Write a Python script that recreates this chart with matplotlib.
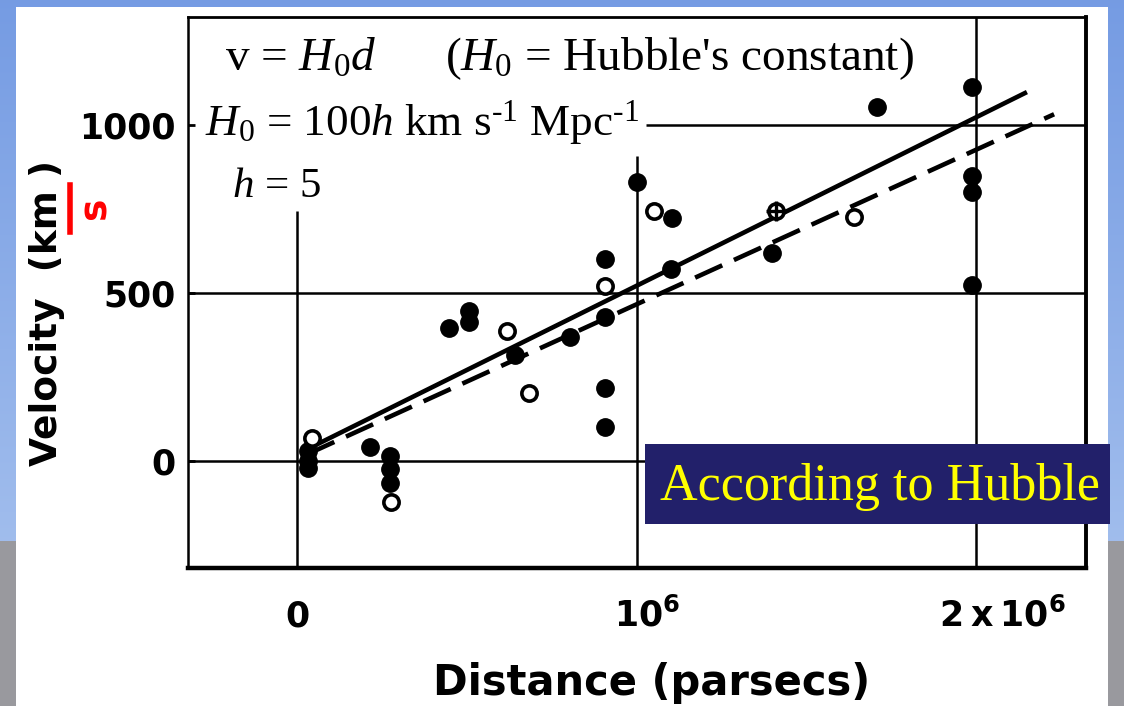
import numpy as np
import matplotlib
matplotlib.use("Agg")
import matplotlib.pyplot as plt
from matplotlib.patches import Rectangle
from matplotlib.lines import Line2D
import matplotlib.transforms as mtransforms

# ---------------- data (distance in parsecs, velocity in km/s) ----------------
filled_dist = [0.032e6, 0.032e6, 0.032e6, 0.215e6, 0.275e6, 0.275e6, 0.275e6,
               0.447e6, 0.506e6, 0.506e6, 0.641e6, 0.803e6, 0.906e6, 0.906e6,
               0.906e6, 0.906e6, 1.0e6, 1.106e6, 1.103e6, 1.40e6, 1.709e6,
               1.988e6, 1.988e6, 1.988e6, 1.988e6]
filled_vel = [30, 0, -22, 42, 15, -25, -65,
              397, 447, 414, 316, 370, 600, 430,
              218, 101, 829, 722, 570, 620, 1053,
              1112, 847, 802, 525]
open_dist = [0.043e6, 0.276e6, 0.618e6, 0.682e6, 0.906e6, 1.053e6, 1.641e6]
open_vel = [69, -122, 388, 203, 522, 743, 725]
cross_dist = [1.41e6]
cross_vel = [743]
solid_dist = [0.02e6, 2.15e6]
solid_vel = [30, 1098]
dashed_dist = [0.03e6, 2.23e6]
dashed_vel = [20, 1032]

x_ticks = [0, 1e6, 2e6]
x_ticklabels = ["0", r"$\mathbf{10^6}$", r"$\mathbf{2\;x\;10^6}$"]
y_ticks = [0, 500, 1000]
y_ticklabels = ["0", "500", "1000"]

W, H = 1124, 706
plt.rcParams['mathtext.fontset'] = 'custom'
plt.rcParams['mathtext.rm'] = 'Liberation Serif'
plt.rcParams['mathtext.it'] = 'Liberation Serif:italic'
plt.rcParams['mathtext.bf'] = 'DejaVu Sans:bold'

fig = plt.figure(figsize=(W / 100, H / 100), dpi=100)

# ---------------- slide background ----------------
bg = fig.add_axes([0, 0, 1, 1], zorder=-10)
yy = np.linspace(0, 1, H)[:, None]
top = np.array([0.46, 0.61, 0.89])
mid = np.array([0.68, 0.78, 0.94])
grey = np.array([0.60, 0.60, 0.62])
img = top + (mid - top) * yy[..., None] * np.ones((1, W, 1))
mask = (np.arange(H) > 540)[:, None]
img = np.where(mask[..., None], grey, img)
bg.imshow(img, aspect='auto', extent=[0, 1, 0, 1], origin='upper')
bg.add_patch(Rectangle((16 / W, 0), (1108 - 16) / W, 1 - 7 / H,
                       facecolor='white', edgecolor='none', transform=bg.transAxes))
bg.set_xlim(0, 1); bg.set_ylim(0, 1)
bg.axis('off')

# ---------------- main axes ----------------
L, R, T, B = 188, 1086, 17, 568
ax = fig.add_axes([L / W, 1 - B / H, (R - L) / W, (B - T) / H])
ax.set_facecolor('white')
px_per_mpc = 339.5
px_per_kms = 0.336
x0px, y0px = 297, 461
ax.set_xlim((L - x0px) / px_per_mpc * 1e6, (R - x0px) / px_per_mpc * 1e6)
ax.set_ylim(-(B - y0px) / px_per_kms, (y0px - T) / px_per_kms)

for side, lw in [('left', 1.8), ('bottom', 3.2), ('right', 2.8), ('top', 2.0)]:
    ax.spines[side].set_linewidth(lw)
    ax.spines[side].set_color('black')

glw = 1.8
ylo, yhi = ax.get_ylim()
xlo, xhi = ax.get_xlim()
ax.hlines([0, 500], xlo, xhi, color='black', lw=glw, zorder=1)
ax.hlines([1000], 1.027e6, xhi, color='black', lw=glw, zorder=1)
ax.vlines([0], ylo, 743, color='black', lw=glw, zorder=1)
ax.vlines([1e6], ylo, 907, color='black', lw=glw, zorder=1)
ax.vlines([2e6], ylo, yhi, color='black', lw=glw, zorder=1)

# fit lines
ax.plot(solid_dist, solid_vel, color='black', lw=3.3, solid_capstyle='butt', zorder=3)
ax.plot(dashed_dist, dashed_vel, color='black', lw=3.3, dashes=(6.5, 2.8),
        dash_capstyle='butt', zorder=3)

# points
ax.plot(filled_dist, filled_vel, 'o', ms=12.5, color='black', mec='black', zorder=4)
ax.plot(open_dist, open_vel, 'o', ms=11, mfc='white', mec='black', mew=2.6, zorder=4)
ax.plot(cross_dist, cross_vel, 'o', ms=11, mfc='white', mec='black', mew=2.6, zorder=4)
ax.plot(cross_dist, cross_vel, '+', ms=15, mec='black', mew=2.4, zorder=5)

# ticks
ax.set_xticks(x_ticks)
ax.set_xticklabels(x_ticklabels)
ax.set_yticks(y_ticks)
ax.set_yticklabels(y_ticklabels)
ax.tick_params(axis='x', length=0, pad=42)
ax.tick_params(axis='y', direction='in', length=5, width=2, pad=9)
for lab in ax.get_xticklabels() + ax.get_yticklabels():
    lab.set_fontfamily('DejaVu Sans')
    lab.set_fontweight('bold')
    lab.set_fontsize(25)
xl = ax.get_xticklabels()
for lab in xl:
    lab.set_verticalalignment('baseline')
offsets = [0, 11, 26]
for lab, off in zip(xl, offsets):
    lab.set_transform(lab.get_transform() +
                      mtransforms.ScaledTranslation(off / 100, 0, fig.dpi_scale_trans))

# formulas
serif = 'Liberation Serif'
ax.text(37 / 898, 1 - 53 / 551, r"v = $H_0d$      ($H_0$ = Hubble's constant)",
        transform=ax.transAxes, fontsize=34, family=serif, va='baseline', ha='left', zorder=6)
ax.text(17 / 898, 1 - 118 / 551,
        r"$H_0$ = 100$h$ km s$^{\text{-1}}$ Mpc$^{\text{-1}}$",
        transform=ax.transAxes, fontsize=32.5, family=serif, va='baseline', ha='left', zorder=6)
ax.text(44 / 898, 1 - 180 / 551, r"$h$ = 5",
        transform=ax.transAxes, fontsize=31, family=serif, va='baseline', ha='left', zorder=6)

# axis labels
fig.text(652 / W, 1 - 683 / H, "Distance (parsecs)", fontsize=30, fontweight='bold',
         family='DejaVu Sans', ha='center', va='center')
fig.text(47 / W, 1 - 313 / H, "Velocity  (km )", fontsize=27, fontweight='bold',
         family='DejaVu Sans', rotation=90, ha='center', va='center')
fig.add_artist(Line2D([70 / W, 70 / W], [1 - 185 / H, 1 - 232 / H], color='red', lw=4,
                      transform=fig.transFigure))
fig.text(96 / W, 1 - 208 / H, "s", fontsize=27, fontweight='bold', color='red',
         family='DejaVu Sans', rotation=90, ha='center', va='center')

# title box
fig.add_artist(Rectangle((645 / W, 1 - 524 / H), (1110 - 645) / W, (524 - 444) / H,
                         facecolor='#22206a', edgecolor='none', transform=fig.transFigure,
                         zorder=10))
fig.text(880 / W, 1 - 487 / H, "According to Hubble", fontsize=37.5, color='#ffff00',
         family=serif, ha='center', va='center', zorder=11)

fig.savefig('out.png', dpi=100)
